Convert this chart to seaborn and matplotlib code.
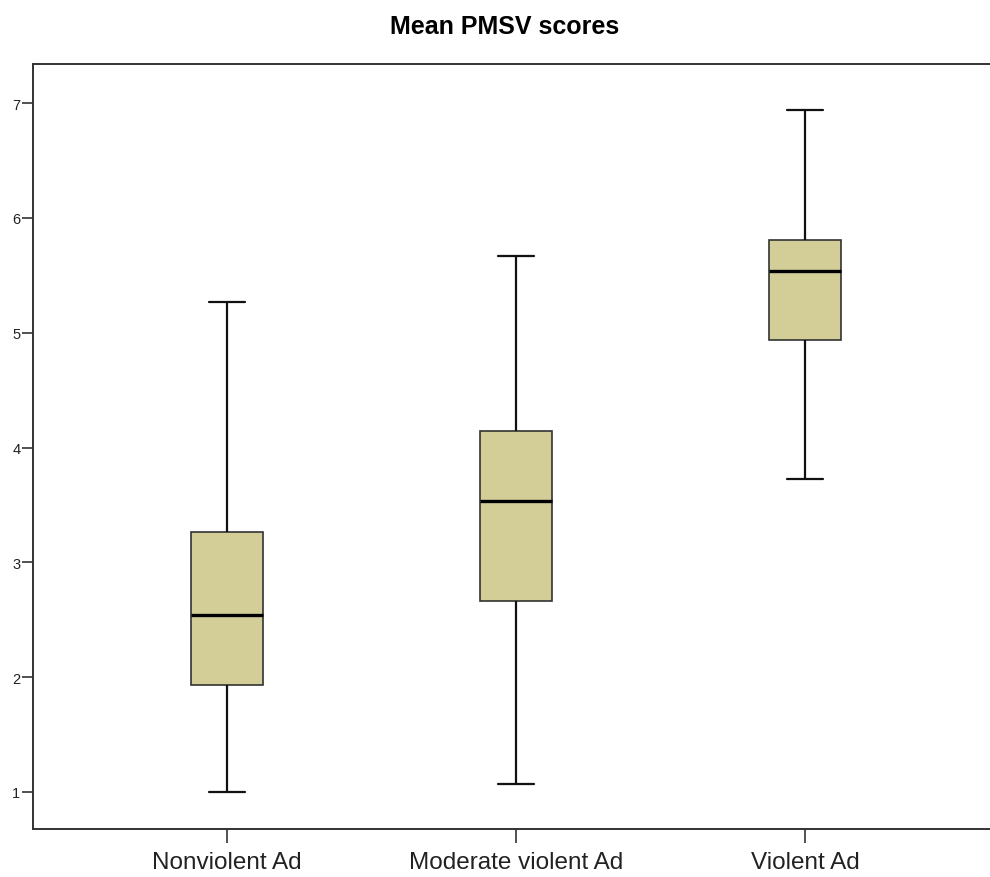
import numpy as np
import pandas as pd
import seaborn as sns
import matplotlib
matplotlib.use("Agg")
import matplotlib.pyplot as plt

# Five-number summaries for each advertisement condition
categories = ["Nonviolent Ad", "Moderate violent Ad", "Violent Ad"]
minimum = [1.00, 1.07, 3.73]
q1 = [1.93, 2.66, 4.94]
median = [2.54, 3.53, 5.54]
q3 = [3.26, 4.14, 5.81]
maximum = [5.27, 5.67, 6.94]

rows = []
for cat, lo, a, m, b, hi in zip(categories, minimum, q1, median, q3, maximum):
    for v in (lo, a, m, b, hi):
        rows.append({"condition": cat, "score": v})
df = pd.DataFrame(rows)

sns.set_theme(style="white")
plt.rcParams["font.family"] = ["Liberation Sans", "DejaVu Sans"]

fig = plt.figure(figsize=(9.9, 8.78), dpi=100)
ax = fig.add_axes([0.0333, 0.0547, 0.9667, 0.8713])

sns.boxplot(
    data=df, x="condition", y="score", order=categories,
    whis=(0, 100), width=0.25, color="#D3CE97", saturation=1,
    linecolor="#222222", linewidth=1.2, ax=ax,
    boxprops=dict(edgecolor="#333333", linewidth=1.2),
    whiskerprops=dict(color="#111111", linewidth=1.6),
    capprops=dict(color="#111111", linewidth=1.6),
    medianprops=dict(color="black", linewidth=2.4),
)

ax.set_ylim(0.678, 7.34)
ax.set_xlim(-0.671, 2.64)
ax.set_yticks([1, 2, 3, 4, 5, 6, 7])
ax.set_yticklabels(["1", "2", "3", "4", "5", "6", "7"], fontsize=10.5, color="#222222")
ax.tick_params(axis="y", length=8, width=1.2, color="#333333", pad=1, left=True)
ax.tick_params(axis="x", length=10, width=1.2, color="#333333", pad=6, bottom=True,
               labelsize=17.5, labelcolor="#222222")
ax.set_xlabel("")
ax.set_ylabel("")
for side in ("left", "top", "bottom"):
    ax.spines[side].set_visible(True)
    ax.spines[side].set_color("#333333")
    ax.spines[side].set_linewidth(1.4)
ax.spines["right"].set_visible(False)

fig.text(0.51, 0.969, "Mean PMSV scores", ha="center", va="center",
         fontsize=18, fontweight="bold", color="black")

fig.savefig("out.png", dpi=100)
